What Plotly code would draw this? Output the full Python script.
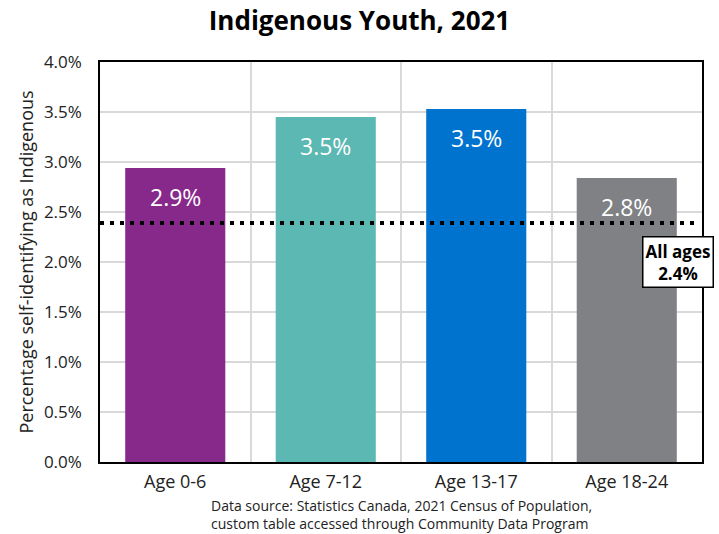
import plotly.graph_objects as go

categories = ["Age 0-6", "Age 7-12", "Age 13-17", "Age 18-24"]
values = [2.94, 3.45, 3.53, 2.84]
labels = ["2.9%", "3.5%", "3.5%", "2.8%"]
colors = ["#87298B", "#5CB8B2", "#0073CF", "#808184"]
all_ages = 2.39
all_ages_label = "All ages<br>2.4%"
y_ticks = [0, 0.5, 1.0, 1.5, 2.0, 2.5, 3.0, 3.5, 4.0]
y_ticktext = ["%.1f%%" % v for v in y_ticks]
source_lines = ["Data source: Statistics Canada, 2021 Census of Population,",
                "custom table accessed through Community Data Program"]

FONT = "Open Sans"
xs = list(range(len(categories)))

fig = go.Figure()
fig.add_trace(go.Bar(
    x=xs, y=values, marker=dict(color=colors, line=dict(width=0)),
    hoverinfo="skip", showlegend=False,
))
fig.add_trace(go.Scatter(
    x=[-0.5, 3.45], y=[all_ages, all_ages], mode="lines",
    line=dict(color="black", width=4, dash="4px,6px"),
    hoverinfo="skip", showlegend=False,
))

for i, (v, t) in enumerate(zip(values, labels)):
    fig.add_annotation(x=i, y=v, text=t, showarrow=False, yanchor="top",
                       yshift=-11, font=dict(family=FONT, size=23, color="white"))

fig.add_annotation(x=0.96, xref="paper", y=all_ages, yref="y", text="<b>" + all_ages_label + "</b>",
                   showarrow=False, yanchor="top", yshift=-13, xanchor="center",
                   bgcolor="white", bordercolor="black", borderwidth=1.5, borderpad=2,
                   font=dict(family=FONT, size=17, color="black"))

fig.add_annotation(x=0.5, xref="paper", y=-0.08, yref="paper", yanchor="top",
                   text="<br>".join(source_lines), showarrow=False, xanchor="center",
                   align="left", font=dict(family=FONT, size=14, color="#222222"))

fig.update_layout(
    width=719, height=534,
    margin=dict(l=100, r=17, t=62, b=72),
    paper_bgcolor="white", plot_bgcolor="white",
    bargap=0.335,
    title=dict(text="<b>Indigenous Youth, 2021</b>", x=0.5, xanchor="center",
               y=0.961, yanchor="middle", font=dict(family=FONT, size=26, color="black")),
    font=dict(family=FONT, color="#222222"),
    xaxis=dict(
        range=[-0.5, 3.5], tickvals=xs, ticktext=categories,
        showgrid=False, zeroline=False,
        showline=True, linecolor="black", linewidth=1.5, mirror=True,
        ticks="outside", ticklen=3, tickcolor="rgba(0,0,0,0)",
        tickfont=dict(family=FONT, size=18, color="#222222"),
        minor=dict(tick0=0.5, dtick=1, showgrid=True, gridcolor="#D9D9D9", gridwidth=1.5, ticks=""),
    ),
    yaxis=dict(
        range=[0, 4.0], tickvals=y_ticks, ticktext=y_ticktext,
        showgrid=True, gridcolor="#D9D9D9", gridwidth=1.5, zeroline=False,
        showline=True, linecolor="black", linewidth=1.5, mirror=True,
        ticks="outside", ticklen=13, tickcolor="rgba(0,0,0,0)",
        tickfont=dict(family=FONT, size=17, color="#222222"),
        title=dict(text="Percentage self-identifying as Indigenous", standoff=6,
                   font=dict(family=FONT, size=18, color="#222222")),
    ),
)

fig.write_html("out.html")
